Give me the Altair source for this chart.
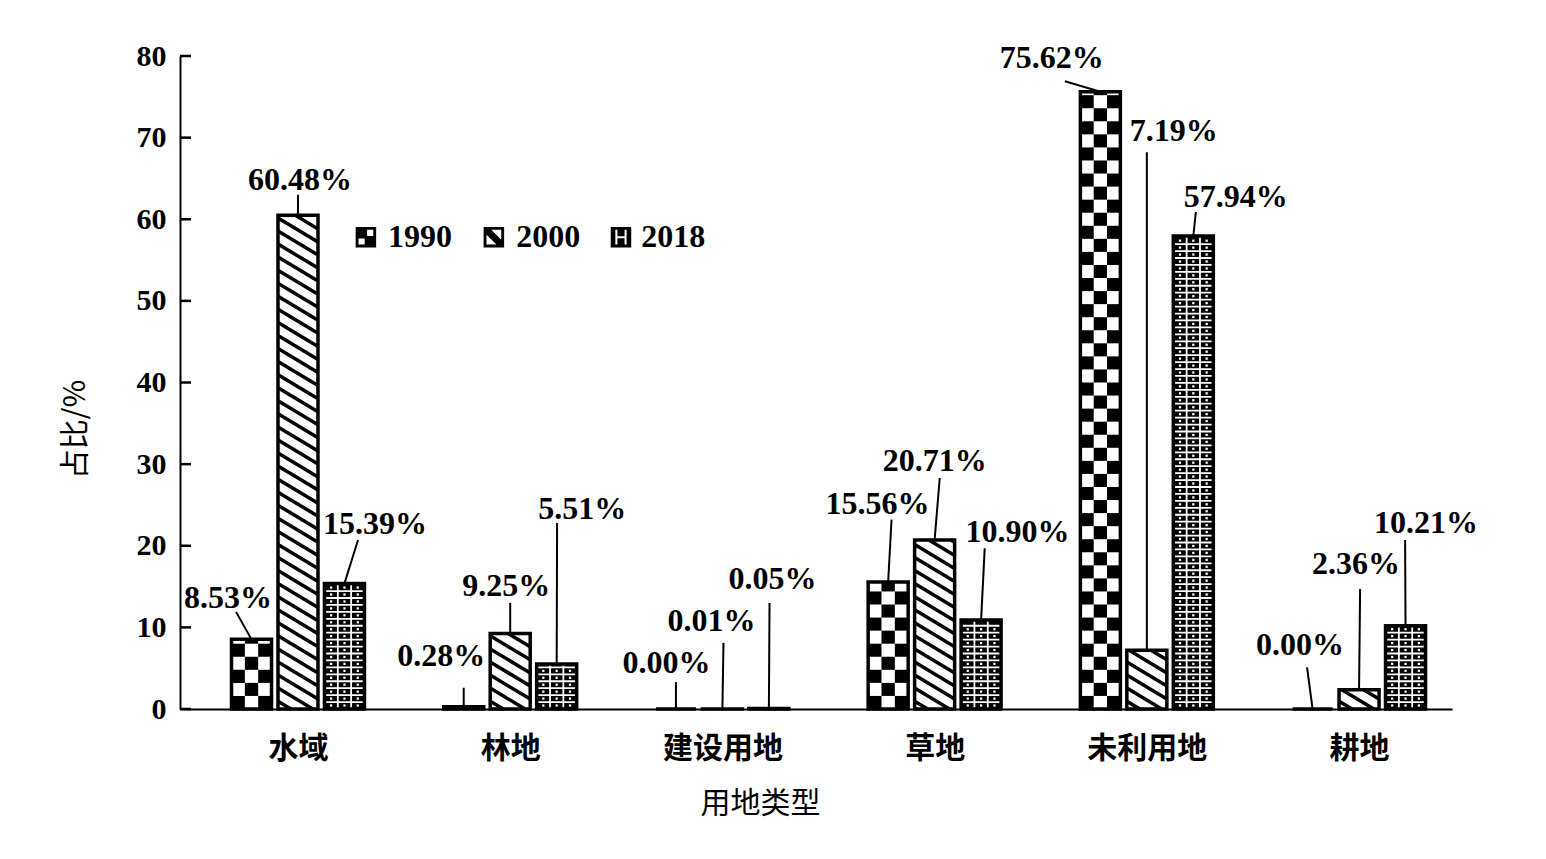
import math
import altair as alt
import pandas as pd

# ---------------- data ----------------
categories = ["水域", "林地", "建设用地", "草地", "未利用地", "耕地"]
years = ["1990", "2000", "2018"]
v1990 = [8.53, 0.28, 0.00, 15.56, 75.62, 0.00]
v2000 = [60.48, 9.25, 0.01, 20.71, 7.19, 2.36]
v2018 = [15.39, 5.51, 0.05, 10.90, 57.94, 10.21]
y_ticks = [0, 10, 20, 30, 40, 50, 60, 70, 80]

# annotation placement (label centre / leader end), x relative to category centre
lab_dx = {
    "1990": [-0.330, -0.325, -0.264, -0.269, -0.448, -0.278],
    "2000": [0.010, -0.019, -0.052, 0.000, 0.127, -0.014],
    "2018": [0.363, 0.340, 0.236, 0.391, 0.419, 0.316],
}
lab_y = {
    "1990": [13.6, 6.5, 5.6, 25.1, 79.8, 7.8],
    "2000": [64.8, 15.1, 10.8, 30.4, 70.8, 17.8],
    "2018": [22.7, 24.5, 15.9, 21.7, 62.7, 22.8],
}
lead_dx = {
    "1990": [-0.292, -0.219, -0.219, -0.203, -0.386, -0.245],
    "2000": [0.000, 0.000, 0.005, 0.024, 0.000, 0.005],
    "2018": [0.283, 0.221, 0.222, 0.236, 0.231, 0.217],
}
lead_y = {
    "1990": [11.9, 2.6, 3.3, 23.2, 76.9, 5.1],
    "2000": [63.0, 13.0, 8.1, 28.3, 68.2, 14.7],
    "2018": [20.7, 22.8, 13.0, 19.7, 60.9, 20.7],
}
# legend placement (symbol centre / label start, in axis units)
legend_sym_x = [0.320, 0.923, 1.522]
legend_lab_x = [0.424, 1.028, 1.617]
legend_y = 57.8

values = {"1990": v1990, "2000": v2000, "2018": v2018}

# ---------------- geometry helpers (pattern sizing) ----------------
PX_X = 212.2     # px per category unit
PX_Y = 8.1625    # px per percent
BAR_W = 0.1885
OFFS = {"1990": -0.219, "2000": 0.0, "2018": 0.219}

bars, labels, leaders = [], [], []
checker, hatch, grid_h, grid_v, grid_dot = [], [], [], [], []

for yr in years:
    for i, cat in enumerate(categories):
        v = values[yr][i]
        xc = i + OFFS[yr]
        x0, x1 = xc - BAR_W / 2, xc + BAR_W / 2
        bars.append(dict(year=yr, cat=cat, xc=xc, x0=x0, x1=x1, v=v, base=0.0))
        labels.append(dict(year=yr, tx=i + lab_dx[yr][i], ty=lab_y[yr][i],
                           text=f"{v:.2f}%"))
        leaders.append(dict(year=yr, xa=xc, ya=v, xb=i + lead_dx[yr][i],
                            yb=lead_y[yr][i]))
        if v < 0.5:
            continue
        if yr == "1990":
            row_h = 1.6
            cw = BAR_W / 3
            nrow = math.ceil(v / row_h)
            for k in range(nrow):
                ya, yb = k * row_h, min(v, (k + 1) * row_h)
                for j in range(3):
                    if (k + j) % 2 == 0:
                        checker.append(dict(cx0=x0 + j * cw, cx1=x0 + (j + 1) * cw,
                                            cy0=ya, cy1=yb))
        elif yr == "2000":
            s = 0.6 * PX_X / PX_Y
            sp = 1.6
            c = sp * 0.6
            while c < v + s * BAR_W:
                xs = max(x0, x0 + (c - v) / s)
                xe = min(x1, x0 + c / s)
                if xe > xs:
                    hatch.append(dict(hx0=xs, hy0=c - s * (xs - x0),
                                      hx1=xe, hy1=c - s * (xe - x0)))
                c += sp
        else:
            rh = 0.85
            k = 1
            while k * rh < v - 0.3:
                grid_h.append(dict(gx0=x0, gx1=x1, gy=k * rh))
                k += 1
            for f in (1 / 3, 2 / 3):
                grid_v.append(dict(gx=x0 + f * BAR_W, gy0=0.0, gy1=v))
            nr = int(v / rh)
            for r in range(nr):
                for f in (1 / 6, 3 / 6, 5 / 6):
                    grid_dot.append(dict(dx=x0 + f * BAR_W, dy=(r + 0.5) * rh))

bars_df = pd.DataFrame(bars)
labels_df = pd.DataFrame(labels)
leaders_df = pd.DataFrame(leaders)
checker_df = pd.DataFrame(checker)
hatch_df = pd.DataFrame(hatch)
gh_df = pd.DataFrame(grid_h)
gv_df = pd.DataFrame(grid_v)
gd_df = pd.DataFrame(grid_dot)
ticks_df = pd.DataFrame({"t": y_ticks})
legend_df = pd.DataFrame({"series": years, "sx": legend_sym_x,
                          "lx": legend_lab_x, "ly": [legend_y] * 3})

# ---------------- scales / axes ----------------
XS = alt.Scale(domain=[-0.556, 5.438], nice=False, zero=False)
YS = alt.Scale(domain=[0, 80], nice=False, zero=True)
SERIF = "Liberation Serif"
CJK = "Noto Sans CJK SC"

label_expr = "[" + ",".join(f"'{c}'" for c in categories) + "][datum.value]"
XAX = alt.Axis(values=[0, 1, 2, 3, 4, 5], labelExpr=label_expr, tickSize=0,
               domainColor="black", domainWidth=2, grid=False,
               labelFont=CJK, labelFontSize=30, labelFontWeight="bold",
               labelColor="black", labelPadding=24, labelOverlap=False,
               labelFlush=False,
               title="用地类型", titleFont=CJK, titleFontSize=30,
               titleFontWeight="normal", titleColor="black",
               titleX=580, titleY=94, titleAlign="center", titleBaseline="middle")
YAX = alt.Axis(values=y_ticks, tickSize=0, domainColor="black", domainWidth=2,
               grid=False, labelFont=SERIF, labelFontSize=30,
               labelFontWeight="bold", labelColor="black", labelPadding=14,
               title="占比/%", titleFont=CJK, titleFontSize=30,
               titleFontWeight="normal", titleColor="black",
               titleX=-105, titleY=373, titleAngle=270, titleAlign="center",
               titleBaseline="middle")


def X(f):
    return alt.X(f, type="quantitative", scale=XS, axis=XAX)


def Y(f):
    return alt.Y(f, type="quantitative", scale=YS, axis=YAX)


fill_layer = alt.Chart(bars_df).mark_rect(strokeWidth=0).encode(
    x=X("x0"), x2="x1", y=Y("base"), y2="v",
    fill=alt.Fill("year:N", scale=alt.Scale(domain=years,
                                            range=["white", "white", "black"]),
                  legend=None),
)

checker_layer = alt.Chart(checker_df).mark_rect(color="black", strokeWidth=0).encode(
    x=X("cx0"), x2="cx1", y=Y("cy0"), y2="cy1")

hatch_layer = alt.Chart(hatch_df).mark_rule(color="black", strokeWidth=3.5).encode(
    x=X("hx0"), x2="hx1", y=Y("hy0"), y2="hy1")

gh_layer = alt.Chart(gh_df).mark_rule(color="white", strokeWidth=1.8).encode(
    x=X("gx0"), x2="gx1", y=Y("gy"))

gv_layer = alt.Chart(gv_df).mark_rule(color="white", strokeWidth=1.8).encode(
    x=X("gx"), y=Y("gy0"), y2="gy1")

gd_layer = alt.Chart(gd_df).mark_square(color="white", size=5, opacity=1).encode(
    x=X("dx"), y=Y("dy"))

outline_layer = alt.Chart(bars_df).mark_rect(
    fillOpacity=0, stroke="black", strokeWidth=3.5).encode(
    x=X("x0"), x2="x1", y=Y("base"), y2="v")

leader_layer = alt.Chart(leaders_df).mark_rule(color="black", strokeWidth=2).encode(
    x=X("xa"), x2="xb", y=Y("ya"), y2="yb")

label_layer = alt.Chart(labels_df).mark_text(
    font=SERIF, fontSize=32, fontWeight="bold", color="black",
    align="center", baseline="middle").encode(
    x=X("tx"), y=Y("ty"), text="text:N")

tick_layer = alt.Chart(ticks_df).mark_rule(color="black", strokeWidth=2.5).encode(
    y=Y("t"), x=alt.value(0), x2=alt.value(11))

paths = [
    "M-1,-1H1V1H-1Z M0.12,-0.72V-0.12H0.72V-0.72Z M-0.72,0.12V0.72H-0.12V0.12Z",
    "M-1,-1H1V1H-1Z M-0.25,-0.72L0.72,0.25L0.72,-0.72Z M-0.72,-0.25L-0.72,0.72L0.25,0.72Z",
    "M-1,-1H1V1H-1Z M-0.55,-0.72V0.72H-0.35V-0.72Z M0.35,-0.72V0.72H0.55V-0.72Z "
    "M-0.35,-0.1V0.1H0.35V-0.1Z",
]
legend_sym = alt.Chart(legend_df).mark_point(
    filled=True, color="black", size=420, opacity=1, strokeWidth=0).encode(
    x=X("sx"), y=Y("ly"),
    shape=alt.Shape("series:N", scale=alt.Scale(domain=years, range=paths),
                    legend=None))
legend_lab = alt.Chart(legend_df).mark_text(
    font=SERIF, fontSize=32, fontWeight="bold", color="black",
    align="left", baseline="middle").encode(
    x=X("lx"), y=Y("ly"), text="series:N")

chart = alt.layer(
    fill_layer, checker_layer, hatch_layer, gh_layer, gv_layer, gd_layer,
    outline_layer, leader_layer, label_layer, tick_layer, legend_sym, legend_lab,
).properties(
    width=1272, height=653,
    autosize=alt.AutoSizeParams(type="none"),
    padding={"left": 172, "top": 48, "right": 80, "bottom": 130},
    background="white",
).configure_view(stroke=None)

chart.save("out.html", embed_options={"renderer": "svg", "actions": False})
